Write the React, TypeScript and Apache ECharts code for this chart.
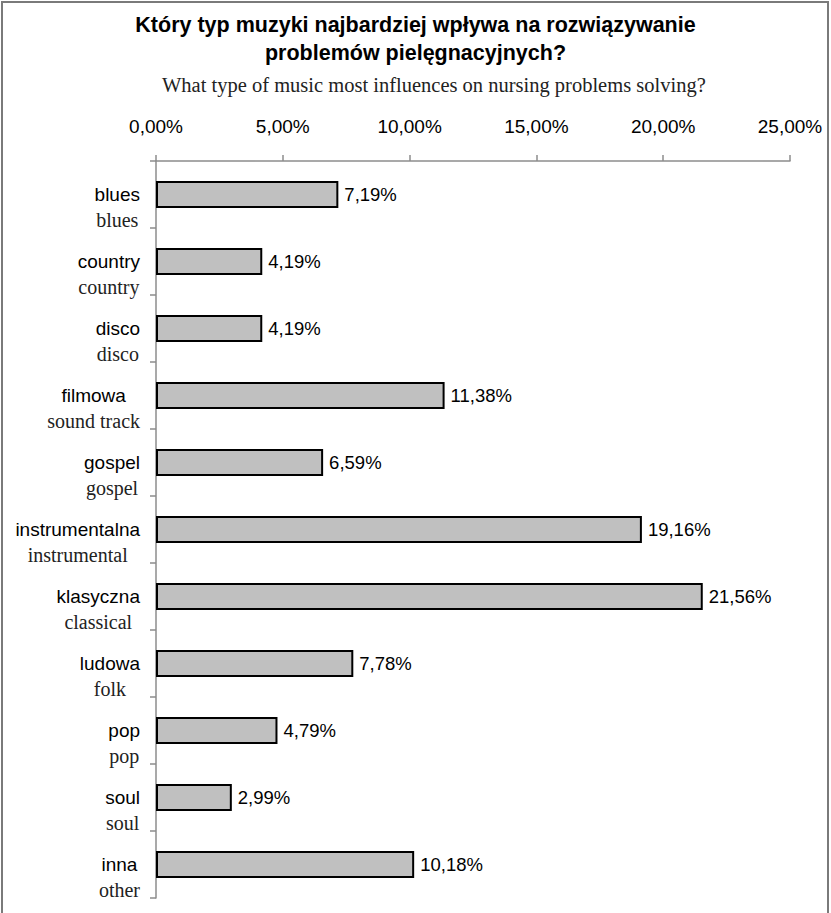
import React, { useEffect, useRef } from "react";
import * as echarts from "echarts";

const categoriesPl = ["blues", "country", "disco", "filmowa", "gospel", "instrumentalna", "klasyczna", "ludowa", "pop", "soul", "inna"];
const categoriesEn = ["blues", "country", "disco", "sound track", "gospel", "instrumental", "classical", "folk", "pop", "soul", "other"];
const values = [7.19, 4.19, 4.19, 11.38, 6.59, 19.16, 21.56, 7.78, 4.79, 2.99, 10.18];
const axisMin = 0;
const axisMax = 25;
const axisStep = 5;

const titleText = "Który typ muzyki najbardziej wpływa na rozwiązywanie\nproblemów pielęgnacyjnych?";
const subtitleText = "What type of music most influences on nursing problems solving?";

const SANS = "'Liberation Sans', Arial, sans-serif";
const SERIF = "'Liberation Serif', 'Times New Roman', serif";

const fmtPct = (v: number) => v.toFixed(2).replace(".", ",") + "%";

export default function App() {
  const ref = useRef<HTMLDivElement>(null);
  useEffect(() => {
    document.body.style.margin = "0";
    const chart = echarts.init(ref.current!, null, { renderer: "svg" });
    chart.setOption({
      animation: false,
      backgroundColor: "#ffffff",
      title: [
        {
          text: titleText,
          left: "center",
          top: 6,
          textStyle: { fontFamily: SANS, fontSize: 21.5, fontWeight: "bold", color: "#000", lineHeight: 28 },
        },
        {
          text: subtitleText,
          left: 162,
          top: 74,
          padding: 0,
          textStyle: { fontFamily: SERIF, fontSize: 20.5, fontWeight: "normal", color: "#222", lineHeight: 21 },
        },
      ],
      graphic: [
        {
          type: "rect",
          shape: { x: 2, y: 2, width: 826, height: 1000 },
          style: { fill: "none", stroke: "#7a7a7a", lineWidth: 2 },
          silent: true,
        },
      ],
      grid: { left: 156, top: 161, right: 41, bottom: 15, containLabel: false },
      xAxis: {
        type: "value",
        position: "top",
        min: axisMin,
        max: axisMax,
        interval: axisStep,
        axisLine: { show: true, lineStyle: { color: "#8c8c8c", width: 1.5 } },
        axisTick: { show: true, length: 6, lineStyle: { color: "#8c8c8c", width: 1.5 } },
        splitLine: { show: false },
        axisLabel: {
          margin: 25,
          fontFamily: SANS,
          fontSize: 19,
          color: "#000",
          formatter: (v: number) => fmtPct(v),
        },
      },
      yAxis: {
        type: "category",
        inverse: true,
        data: categoriesPl,
        axisLine: { show: true, lineStyle: { color: "#8c8c8c", width: 1.5 } },
        axisTick: { show: true, length: 6, alignWithLabel: false, lineStyle: { color: "#8c8c8c", width: 1.5 } },
        axisLabel: {
          interval: 0,
          margin: 16,
          padding: [25, 0, 0, 0],
          formatter: (v: string, i: number) => `{pl|${v}}\n{en|${categoriesEn[i]}}`,
          rich: {
            pl: { fontFamily: SANS, fontSize: 19, color: "#000", lineHeight: 25, align: "center" },
            en: { fontFamily: SERIF, fontSize: 20, color: "#222", lineHeight: 25, align: "center" },
          },
        },
      },
      series: [
        {
          type: "bar",
          data: values,
          barCategoryGap: "60%",
          itemStyle: { color: "#c0c0c0", borderColor: "#000", borderWidth: 2 },
          label: {
            show: true,
            position: "right",
            distance: 6,
            fontFamily: SANS,
            fontSize: 18.5,
            color: "#000",
            formatter: (p: any) => fmtPct(p.value),
          },
        },
      ],
    });
    return () => chart.dispose();
  }, []);
  return <div ref={ref} style={{ position: "fixed", left: 0, top: 0, width: 831, height: 913 }} />;
}
